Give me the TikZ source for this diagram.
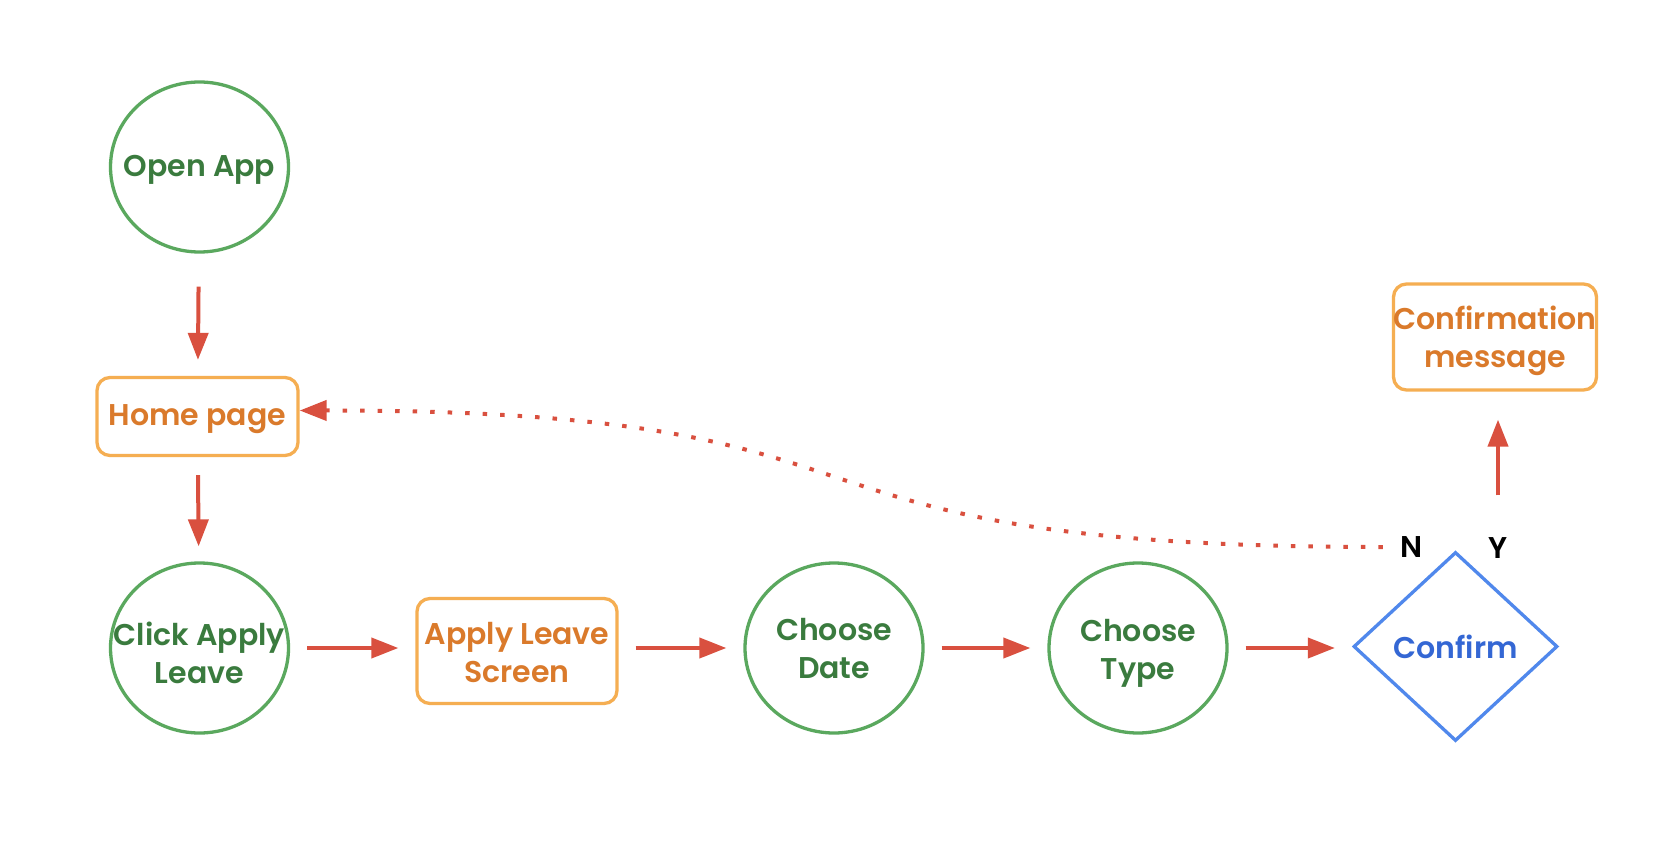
\documentclass[tikz,border=0pt]{standalone}
\usepackage{fontspec}
\setmainfont{Poppins}[BoldFont={Poppins SemiBold}]
\usetikzlibrary{shapes.geometric,arrows.meta,calc}
\definecolor{gline}{HTML}{5AA85E}
\definecolor{gtxt}{HTML}{3A7B3E}
\definecolor{oline}{HTML}{F5AE52}
\definecolor{otxt}{HTML}{DA7A2B}
\definecolor{bline}{HTML}{5088EC}
\definecolor{btxt}{HTML}{3467D4}
\definecolor{rline}{HTML}{D9503F}
\begin{document}
\begin{tikzpicture}[x=1pt,y=-1pt,
  txtfont/.style={font=\fontsize{30}{38}\selectfont\bfseries},
  circnode/.style={ellipse, draw=gline, line width=3.3pt, minimum width=178pt, minimum height=170pt, inner sep=0pt},
  gtext/.style={txtfont, text=gtxt, align=center},
  otext/.style={txtfont, text=otxt, align=center},
  boxnode/.style={rectangle, rounded corners=13pt, draw=oline, line width=3.3pt, inner sep=0pt, text=otxt, txtfont, align=center},
  decnode/.style={diamond, draw=bline, line width=3.3pt, minimum width=204pt, minimum height=189pt, inner sep=0pt, text=btxt, txtfont},
  lbl/.style={txtfont, text=black, inner sep=0pt},
  flow/.style={draw=rline, line width=4pt, -{Triangle[length=27pt,width=20pt]}, shorten <=17pt, shorten >=17pt},
  dotline/.style={draw=rline, line width=4pt, dash pattern=on 4.5pt off 13pt, -{Triangle[length=27pt,width=20pt]}}
]
\useasboundingbox (0,0) rectangle (1664,858);
\fill[white] (0,0) rectangle (1664,858);

\node[circnode, label={[gtext, name=openT, yshift=-3pt]center:Open App}] (open) at (199.5,167) {};
\node[boxnode, minimum width=201pt, minimum height=78pt, label={[otext, name=homeT, yshift=-3pt]center:Home page}] (home) at (197.5,416.5) {};
\node[circnode, label={[gtext, name=clickT, yshift=-5pt]center:Click Apply\\Leave}] (click) at (199.5,648) {};
\node[boxnode, minimum width=200pt, minimum height=105pt, label={[otext, name=screenT, yshift=-2pt]center:Apply Leave\\Screen}] (screen) at (517,651) {};
\node[circnode, label={[gtext, name=dateT, yshift=-1pt]center:Choose\\Date}] (date) at (834,648) {};
\node[circnode, label={[gtext, name=typeT, yshift=-5pt]center:Choose\\Type}] (type) at (1138,648) {};
\node[decnode] (confirm) at (1455.5,646.5) {Confirm};
\node[boxnode, minimum width=203pt, minimum height=106pt, label={[otext, name=msgT, yshift=-4pt]center:Confirmation\\message}] (msg) at (1495,337) {};
\node[lbl] (nlab) at (1412,547) {N};
\node[lbl] (ylab) at (1498,548) {Y};

\draw[flow, shorten <=33pt, shorten >=16pt] (open) -- (home);
\draw[flow, shorten <=18pt, shorten >=15pt] (home) -- (click);
\draw[flow] (click.east) -- (click.east -| screen.west);
\draw[flow] (screen.east |- date.west) -- (date.west);
\draw[flow] (date) -- (type);
\draw[flow] (type.east) -- (type.east -| confirm.west);
\draw[flow, shorten <=42pt, shorten >=28pt] (ylab.north) -- (ylab.north |- msg.south);

\coordinate (nstart) at ($(nlab.west)+(-18,0)$);
\draw[dotline] (nstart) .. controls (719,547) and (951,410) .. ($(home.east)+(0,-6)$);
\end{tikzpicture}
\end{document}
